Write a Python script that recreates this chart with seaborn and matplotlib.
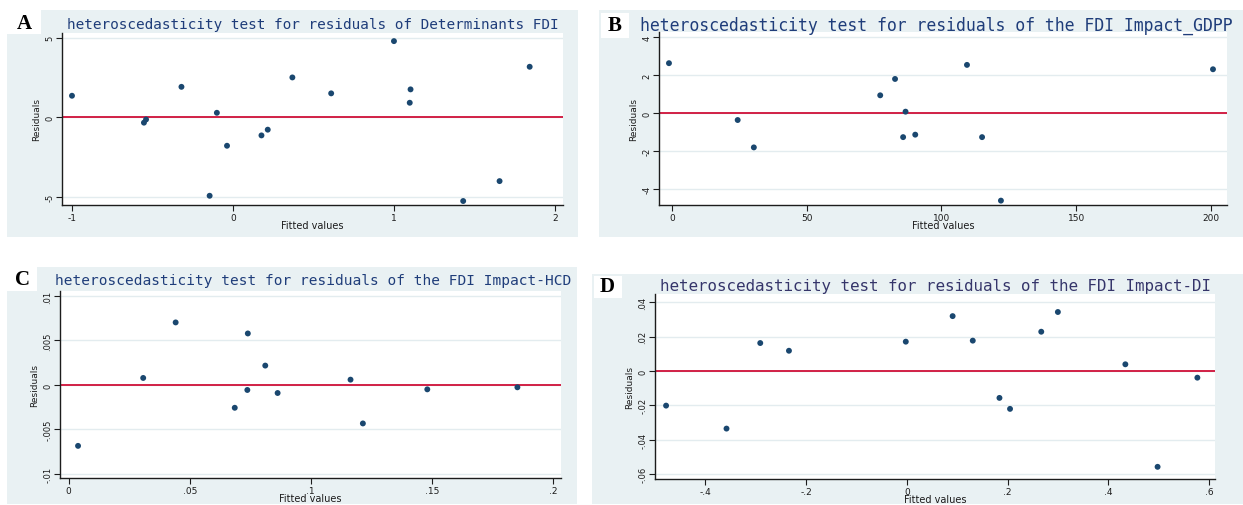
import matplotlib
matplotlib.use("Agg")
import matplotlib.pyplot as plt
from matplotlib.patches import Rectangle
import seaborn as sns
import pandas as pd

# ---------------- data ----------------
A_fitted = [-1.0, -0.553, -0.54, -0.32, -0.10, -0.145, -0.037, 0.177, 0.216, 0.369,
            0.61, 1.0, 1.103, 1.098, 1.43, 1.656, 1.843]
A_resid = [1.36, -0.33, -0.13, 1.92, 0.29, -4.92, -1.78, -1.13, -0.77, 2.51,
           1.51, 4.79, 1.76, 0.92, -5.25, -4.0, 3.18]

B_fitted = [-1.1, 24.4, 30.4, 77.3, 82.8, 86.7, 85.8, 90.3, 109.5, 115.1, 122.1, 200.8]
B_resid = [2.62, -0.37, -1.81, 0.93, 1.79, 0.07, -1.27, -1.14, 2.53, -1.27, -4.61, 2.30]

C_fitted = [0.0039, 0.0308, 0.0442, 0.0686, 0.074, 0.0738, 0.0812, 0.0863, 0.1164,
            0.1215, 0.1481, 0.1853]
C_resid = [-0.00684, 0.00079, 0.00703, -0.00256, 0.00579, -0.00056, 0.00218, -0.0009,
           0.0006, -0.00432, -0.00049, -0.00026]

D_fitted = [-0.478, -0.358, -0.291, -0.234, -0.002, 0.091, 0.131, 0.184, 0.205, 0.267,
            0.300, 0.434, 0.498, 0.577]
D_resid = [-0.0202, -0.0336, 0.0163, 0.0118, 0.0171, 0.032, 0.0177, -0.0157, -0.0221,
           0.0229, 0.0344, 0.0039, -0.0559, -0.0039]

panel_letters = ["A", "B", "C", "D"]
titles = [
    "heteroscedasticity test for residuals of Determinants FDI",
    "heteroscedasticity test for residuals of the FDI Impact_GDPP",
    "heteroscedasticity test for residuals of the FDI Impact-HCD",
    "heteroscedasticity test for residuals of the FDI Impact-DI",
]
x_label = "Fitted values"
y_label = "Residuals"

A_xticks = [-1, 0, 1, 2];            A_xticklabels = ["-1", "0", "1", "2"]
A_yticks = [-5, 0, 5];               A_yticklabels = ["-5", "0", "5"]
B_xticks = [0, 50, 100, 150, 200];   B_xticklabels = ["0", "50", "100", "150", "200"]
B_yticks = [-4, -2, 0, 2, 4];        B_yticklabels = ["-4", "-2", "0", "2", "4"]
C_xticks = [0, 0.05, 0.1, 0.15, 0.2]; C_xticklabels = ["0", ".05", ".1", ".15", ".2"]
C_yticks = [-0.01, -0.005, 0, 0.005, 0.01]; C_yticklabels = ["-.01", "-.005", "0", ".005", ".01"]
D_xticks = [-0.4, -0.2, 0, 0.2, 0.4, 0.6]; D_xticklabels = ["-.4", "-.2", "0", ".2", ".4", ".6"]
D_yticks = [-0.06, -0.04, -0.02, 0, 0.02, 0.04]; D_yticklabels = ["-.06", "-.04", "-.02", "0", ".02", ".04"]

# ---------------- style / layout ----------------
sns.set_theme(style="white")
plt.rcParams["font.family"] = ["DejaVu Sans"]

W, H = 1243, 506
fig = plt.figure(figsize=(W / 100, H / 100), dpi=100, facecolor="white")

BG = "#e9f1f3"
GRID = "#e3ecef"
NAVY = "#1a476f"
RED = "#cf1038"
TXT = "#1c1c1c"


def px_rect(x0, y0, x1, y1, color, z=0):
    fig.patches.append(Rectangle((x0 / W, 1 - y1 / H), (x1 - x0) / W, (y1 - y0) / H,
                                 transform=fig.transFigure, facecolor=color,
                                 edgecolor="none", zorder=z))


def px_axes(x0, y0, x1, y1):
    return fig.add_axes([x0 / W, 1 - y1 / H, (x1 - x0) / W, (y1 - y0) / H])


# title: (left px, centre y px, target width px, colour)
panels = [
    dict(bg=(7, 11, 578, 238), box=(0, 11, 41, 35), ax=(62, 34, 563, 206),
         letter=(24, 24), title=(67, 25, 495, "#1f3d7a"),
         x=A_fitted, y=A_resid, xlim=(-1.062, 2.05), ylim=(-5.5, 5.3),
         xt=A_xticks, xtl=A_xticklabels, yt=A_yticks, ytl=A_yticklabels),
    dict(bg=(599, 11, 1243, 238), box=(601, 14, 629, 39), ax=(659, 33, 1227, 206),
         letter=(615, 26), title=(640, 26, 598, "#1f3d7a"),
         x=B_fitted, y=B_resid, xlim=(-4.8, 206), ylim=(-4.84, 4.26),
         xt=B_xticks, xtl=B_xticklabels, yt=B_yticks, ytl=B_yticklabels),
    dict(bg=(7, 268, 577, 505), box=(0, 268, 37, 292), ax=(60, 292, 561, 479),
         letter=(22, 280), title=(55, 281, 515, "#1f3d7a"),
         x=C_fitted, y=C_resid, xlim=(-0.00355, 0.2033), ylim=(-0.01045, 0.01056),
         xt=C_xticks, xtl=C_xticklabels, yt=C_yticks, ytl=C_yticklabels),
    dict(bg=(592, 275, 1243, 505), box=(594, 277, 622, 299), ax=(655, 295, 1215, 480),
         letter=(607, 287), title=(660, 287, 557, "#35356a"),
         x=D_fitted, y=D_resid, xlim=(-0.5, 0.612), ylim=(-0.063, 0.0449),
         xt=D_xticks, xtl=D_xticklabels, yt=D_yticks, ytl=D_yticklabels),
]

renderer = fig.canvas.get_renderer()

for i, p in enumerate(panels):
    px_rect(*p["bg"], BG, z=0)
    px_rect(*p["box"], "white", z=1)

    ax = px_axes(*p["ax"])
    ax.set_zorder(3)
    ax.set_facecolor("white")
    df = pd.DataFrame({"fitted": p["x"], "resid": p["y"]})
    ax.set_axisbelow(True)
    ax.axhline(0, color=RED, lw=1.3, zorder=2)
    sns.scatterplot(data=df, x="fitted", y="resid", ax=ax, color=NAVY, s=18,
                    marker="o", edgecolor="none", zorder=3, legend=False)
    ax.set_xlim(*p["xlim"])
    ax.set_ylim(*p["ylim"])
    ax.set_xticks(p["xt"])
    ax.set_xticklabels(p["xtl"], fontsize=6.5, color=TXT)
    ax.set_yticks(p["yt"])
    ax.set_yticklabels(p["ytl"], fontsize=6, rotation=90, va="center", color=TXT)
    ax.grid(axis="y", color=GRID, lw=1.0)
    ax.grid(axis="x", visible=False)
    for s in ["top", "right"]:
        ax.spines[s].set_visible(False)
    for s in ["left", "bottom"]:
        ax.spines[s].set_color(TXT)
        ax.spines[s].set_linewidth(1.0)
    ax.tick_params(axis="both", direction="out", length=4, width=0.8, color=TXT,
                   pad=1.5, bottom=True, left=True)
    ax.set_xlabel(x_label, fontsize=7, color=TXT, labelpad=-1)
    ax.set_ylabel(y_label, fontsize=6.5, color=TXT, labelpad=3)

    lx, ly = p["letter"]
    fig.text(lx / W, 1 - ly / H, panel_letters[i], fontsize=15, fontweight="bold",
             family=["Liberation Serif"], ha="center", va="center", color="black", zorder=5)

    tx, ty, tw, tc = p["title"]
    t = fig.text(tx / W, 1 - ty / H, titles[i], fontsize=10, ha="left", va="center",
                 color=tc, zorder=5, family=["DejaVu Sans Mono"])
    w = t.get_window_extent(renderer=renderer).width
    t.set_fontsize(10 * tw / w)

fig.savefig("out.png", dpi=100, facecolor="white")
